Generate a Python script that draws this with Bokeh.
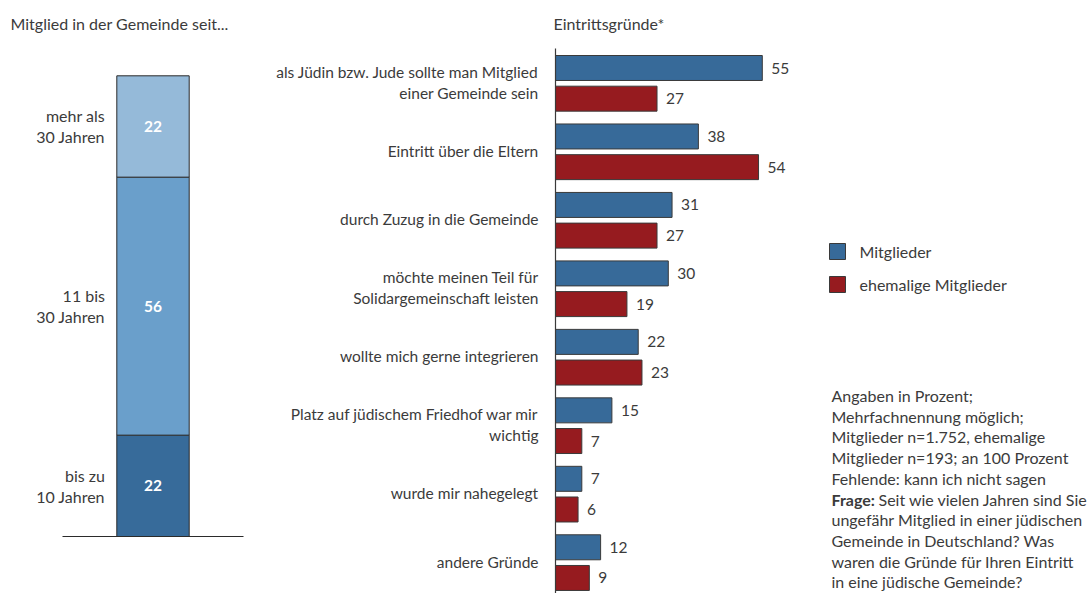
from bokeh.plotting import figure
from bokeh.models import Range1d
from bokeh.core.properties import value
from bokeh.embed import file_html
from bokeh.resources import INLINE

# ---------------- data ----------------
stack_title = "Mitglied in der Gemeinde seit..."
stack_categories = ["bis zu\n10 Jahren", "11 bis\n30 Jahren", "mehr als\n30 Jahren"]
stack_values = [22, 56, 22]
stack_colors = ["#376b9a", "#6a9fcb", "#95bad9"]

bar_title = "Eintrittsgründe*"
reasons = [
    "als Jüdin bzw. Jude sollte man Mitglied\neiner Gemeinde sein",
    "Eintritt über die Eltern",
    "durch Zuzug in die Gemeinde",
    "möchte meinen Teil für\nSolidargemeinschaft leisten",
    "wollte mich gerne integrieren",
    "Platz auf jüdischem Friedhof war mir\nwichtig",
    "wurde mir nahegelegt",
    "andere Gründe",
]
mitglieder = [55, 38, 31, 30, 22, 15, 7, 12]
ehemalige = [27, 54, 27, 19, 23, 7, 6, 9]
series_names = ["Mitglieder", "ehemalige Mitglieder"]
series_colors = ["#376a99", "#961b1f"]

note_lines = [
    "Angaben in Prozent;",
    "Mehrfachnennung möglich;",
    "Mitglieder n=1.752, ehemalige",
    "Mitglieder n=193; an 100 Prozent",
    "Fehlende: kann ich nicht sagen",
    "Frage:|Seit wie vielen Jahren sind Sie",
    "ungefähr Mitglied in einer jüdischen",
    "Gemeinde in Deutschland? Was",
    "waren die Gründe für Ihren Eintritt",
    "in eine jüdische Gemeinde?",
]

# ---------------- layout (page pixels) ----------------
W, H = 1089, 593
L, T = 0, 0
FONT = value("Lato")
TXT = "#3b3b3b"
FS = "15.5px"
FS2 = "16px"

# horizontal bar chart scale
AXIS_PX = 555.0
PX_PER_PCT = 3.76
FIRST_CENTER = 67.5
PITCH = 68.47
RED_SHIFT = 0.448
BAR_H = 0.365

# stacked bar scale
STACK_CX = 152.5
STACK_W = 72.4
STACK_BASE = 536.0
PX_PER_STACK = 4.607

p = figure(
    width=W, height=H, output_backend="svg", toolbar_location=None,
    x_range=Range1d((L - AXIS_PX) / PX_PER_PCT, (L + W - AXIS_PX) / PX_PER_PCT),
    y_range=Range1d((T + H - FIRST_CENTER) / PITCH, (T - FIRST_CENTER) / PITCH),
    min_border=0, outline_line_color=None,
    x_axis_location=None, y_axis_location=None,
)
p.grid.visible = False
p.background_fill_color = "white"
p.border_fill_color = "white"
p.extra_x_ranges = {
    "px": Range1d(L, L + W),
    "sx": Range1d((L - STACK_CX) / STACK_W, (L + W - STACK_CX) / STACK_W),
}
p.extra_y_ranges = {
    "px": Range1d(T + H, T),
    "sy": Range1d(-(T + H - STACK_BASE) / PX_PER_STACK, (STACK_BASE - T) / PX_PER_STACK),
}

# ---------------- stacked bar ----------------
bottoms, tops = [], []
acc = 0
for v in stack_values:
    bottoms.append(acc)
    acc += v
    tops.append(acc)
p.vbar(x=[0] * len(stack_values), width=1, bottom=bottoms, top=tops,
       fill_color=stack_colors, line_color="#2b2b2b", line_width=1,
       x_range_name="sx", y_range_name="sy")
mids = [(b + t) / 2 for b, t in zip(bottoms, tops)]
p.text(x=[0] * len(mids), y=mids, text=[str(v) for v in stack_values],
       text_font=FONT, text_font_size=FS, text_font_style="bold", text_color="white",
       text_align="center", text_baseline="middle",
       x_range_name="sx", y_range_name="sy")
# category labels
sx, sy, st, so = [], [], [], []
for m, lab in zip(mids, stack_categories):
    lines = lab.split("\n")
    for j, ln in enumerate(lines):
        sx.append(0)
        sy.append(m)
        st.append(ln)
        so.append((j - (len(lines) - 1) / 2) * 21)
p.text(x=sx, y=sy, text=st, y_offset=so, x_offset=-48,
       text_font=FONT, text_font_size=FS2, text_color=TXT,
       text_align="right", text_baseline="middle",
       x_range_name="sx", y_range_name="sy")
# baseline
p.segment(x0=[-1.25], y0=[0], x1=[1.25], y1=[0], line_color="#2b2b2b", line_width=1.2,
          x_range_name="sx", y_range_name="sy")

# ---------------- horizontal bars ----------------
idx = list(range(len(reasons)))
yb = [i for i in idx]
yr = [i + RED_SHIFT for i in idx]
p.hbar(y=yb, left=0, right=mitglieder, height=BAR_H, fill_color=series_colors[0],
       line_color="#3a3a3a", line_width=1)
p.hbar(y=yr, left=0, right=ehemalige, height=BAR_H, fill_color=series_colors[1],
       line_color="#3a3a3a", line_width=1)
p.text(x=mitglieder, y=yb, text=[str(v) for v in mitglieder], x_offset=9,
       text_font=FONT, text_font_size=FS, text_color=TXT,
       text_align="left", text_baseline="middle")
p.text(x=ehemalige, y=yr, text=[str(v) for v in ehemalige], x_offset=9,
       text_font=FONT, text_font_size=FS, text_color=TXT,
       text_align="left", text_baseline="middle")
# axis line
p.segment(x0=[0], y0=[(48 - FIRST_CENTER) / PITCH], x1=[0], y1=[len(reasons) + 1],
          line_color="#3a3a3a", line_width=1.2)
# reason labels
rx, ry, rt, ro = [], [], [], []
for i, lab in zip(idx, reasons):
    lines = lab.split("\n")
    c = i + RED_SHIFT / 2
    for j, ln in enumerate(lines):
        rx.append(0)
        ry.append(c)
        rt.append(ln)
        ro.append((j - (len(lines) - 1) / 2) * 21 - 1)
p.text(x=rx, y=ry, text=rt, y_offset=ro, x_offset=-17,
       text_font=FONT, text_font_size=FS, text_color=TXT,
       text_align="right", text_baseline="middle")

# ---------------- titles ----------------
p.text(x=[10], y=[23], text=[stack_title], text_font=FONT, text_font_size=FS2,
       text_color=TXT, text_align="left", text_baseline="middle",
       x_range_name="px", y_range_name="px")
p.text(x=[553], y=[23], text=[bar_title], text_font=FONT, text_font_size=FS2,
       text_color=TXT, text_align="left", text_baseline="middle",
       x_range_name="px", y_range_name="px")

# ---------------- legend ----------------
leg_y = [251, 284]
p.rect(x=[837, 837], y=leg_y, width=16, height=16, width_units="screen", height_units="screen",
       fill_color=series_colors, line_color="#3a3a3a", line_width=1,
       x_range_name="px", y_range_name="px")
p.text(x=[859, 859], y=leg_y, text=series_names, text_font=FONT, text_font_size=FS2,
       text_color=TXT, text_align="left", text_baseline="middle",
       x_range_name="px", y_range_name="px")

# ---------------- note ----------------
NOTE_X, NOTE_Y, NOTE_DY = 831, 395, 20.7
for k, ln in enumerate(note_lines):
    yy = NOTE_Y + k * NOTE_DY
    if "|" in ln:
        bold, rest = ln.split("|")
        p.text(x=[NOTE_X], y=[yy], text=[bold], text_font=FONT, text_font_size=FS2,
               text_font_style="bold", text_color=TXT, text_align="left",
               text_baseline="middle", x_range_name="px", y_range_name="px")
        p.text(x=[NOTE_X], y=[yy], text=[rest], x_offset=47, text_font=FONT,
               text_font_size=FS2, text_color=TXT, text_align="left",
               text_baseline="middle", x_range_name="px", y_range_name="px")
    else:
        p.text(x=[NOTE_X], y=[yy], text=[ln], text_font=FONT, text_font_size=FS2,
               text_color=TXT, text_align="left", text_baseline="middle",
               x_range_name="px", y_range_name="px")

open("out.html", "w").write(file_html(p, INLINE))
